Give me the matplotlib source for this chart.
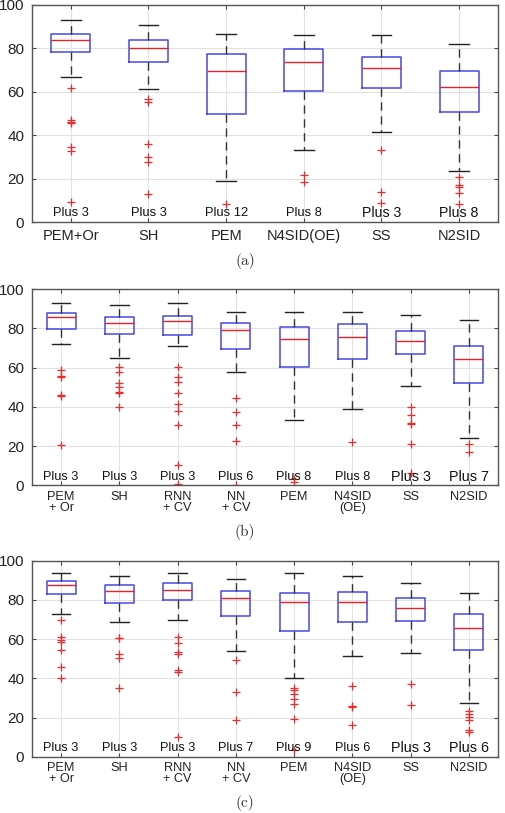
import matplotlib
matplotlib.use("Agg")
import matplotlib.pyplot as plt

# ---------------- data ----------------
labels_a = ["PEM+Or", "SH", "PEM", "N4SID(OE)", "SS", "N2SID"]
plus_a = [3, 3, 12, 8, 3, 8]
med_a = [83.9, 79.9, 69.4, 73.5, 70.8, 62.0]
q1_a = [78.4, 73.7, 49.8, 60.2, 61.6, 50.5]
q3_a = [86.7, 83.8, 77.2, 79.6, 76.0, 69.4]
lo_a = [66.6, 61.1, 19.1, 33.4, 41.5, 23.7]
hi_a = [93.0, 90.7, 86.4, 86.1, 85.9, 81.8]
fl_a = [
    [61.7, 47.2, 46.0, 45.5, 34.5, 32.9, 9.5],
    [56.8, 55.3, 35.8, 30.2, 27.7, 13.1],
    [8.6],
    [21.8, 18.6],
    [33.2, 13.9, 8.7],
    [20.8, 17.0, 16.4, 13.6, 8.6],
]

labels_bc = ["PEM\n+ Or", "SH", "RNN\n+ CV", "NN\n+ CV", "PEM", "N4SID\n(OE)", "SS", "N2SID"]

plus_b = [3, 3, 3, 6, 8, 8, 3, 7]
med_b = [85.7, 82.7, 83.8, 79.1, 74.7, 75.5, 73.5, 64.3]
q1_b = [79.9, 77.0, 76.7, 69.7, 60.4, 64.3, 67.0, 52.2]
q3_b = [87.9, 85.7, 86.6, 82.7, 80.8, 82.1, 78.9, 71.3]
lo_b = [72.1, 64.8, 71.1, 58.0, 33.3, 38.8, 50.5, 24.3]
hi_b = [93.2, 91.8, 92.9, 88.6, 88.4, 88.4, 86.9, 84.4]
fl_b = [
    [58.8, 55.8, 55.1, 46.3, 45.6, 20.7],
    [60.5, 57.8, 52.4, 50.3, 47.6, 46.9, 40.1],
    [60.5, 55.4, 52.7, 46.9, 41.5, 38.1, 31.0, 10.5, 0.5],
    [44.6, 37.2, 30.6, 22.8, 0.3],
    [3.0, 1.7],
    [21.9],
    [39.8, 35.7, 32.0, 31.3, 21.3, 6.1],
    [21.1, 17.0],
]

plus_c = [3, 3, 3, 7, 9, 6, 3, 6]
med_c = [87.7, 84.6, 85.0, 80.9, 78.8, 79.0, 76.1, 65.7]
q1_c = [82.8, 78.5, 79.9, 71.7, 64.3, 68.8, 69.3, 54.6]
q3_c = [89.6, 87.5, 88.4, 84.3, 83.6, 84.0, 80.9, 72.7]
lo_c = [72.7, 68.8, 69.8, 53.8, 40.4, 51.2, 52.7, 27.5]
hi_c = [93.7, 92.3, 93.9, 90.6, 93.5, 92.3, 88.6, 83.4]
fl_c = [
    [69.5, 61.1, 59.7, 58.4, 54.4, 45.7, 40.3],
    [60.8, 60.5, 52.2, 50.2, 34.8],
    [61.1, 58.0, 53.2, 52.6, 44.0, 43.3, 9.9],
    [49.5, 32.8, 18.8],
    [35.0, 33.8, 31.9, 29.4, 27.0, 19.1, 3.5],
    [36.2, 25.9, 25.3, 16.0],
    [36.9, 26.6],
    [23.4, 21.8, 20.1, 18.8, 13.7, 12.6],
]

captions = ["(a)", "(b)", "(c)"]

# ---------------- figure ----------------
W, H = 506, 813
fig = plt.figure(figsize=(W / 100, H / 100), dpi=100)
plt.rcParams['font.family'] = ['Liberation Sans', 'DejaVu Sans']

panels = [
    dict(labels=labels_a, plus=plus_a, med=med_a, q1=q1_a, q3=q3_a, lo=lo_a, hi=hi_a,
         fl=fl_a, top=4.7, bot=222.3, cap=0.25, capy=261, big=[4, 5],
         xfs=10.5, xpad=5, pfs=9.3, pbig=10.2),
    dict(labels=labels_bc, plus=plus_b, med=med_b, q1=q1_b, q3=q3_b, lo=lo_b, hi=hi_b,
         fl=fl_b, top=289.3, bot=485.3, cap=0.32, capy=532, big=[6, 7],
         xfs=9.2, xpad=4, pfs=9.1, pbig=10.4),
    dict(labels=labels_bc, plus=plus_c, med=med_c, q1=q1_c, q3=q3_c, lo=lo_c, hi=hi_c,
         fl=fl_c, top=560.7, bot=756.7, cap=0.32, capy=803, big=[6, 7],
         xfs=9.2, xpad=4, pfs=9.1, pbig=10.4),
]

left_px, right_px = 32, 498
for p, cap in zip(panels, captions):
    ax = fig.add_axes([left_px / W, 1 - p['bot'] / H, (right_px - left_px) / W,
                       (p['bot'] - p['top']) / H])
    n = len(p['labels'])
    stats = []
    for i in range(n):
        stats.append(dict(med=p['med'][i], q1=p['q1'][i], q3=p['q3'][i],
                          whislo=p['lo'][i], whishi=p['hi'][i], fliers=p['fl'][i]))
    pos = list(range(1, n + 1))
    ax.bxp(stats, positions=pos, widths=0.5, capwidths=p['cap'],
           showfliers=True, patch_artist=False,
           boxprops=dict(color='#4848e6', linewidth=1.1),
           medianprops=dict(color='#e8202a', linewidth=1.0),
           whiskerprops=dict(color='#333333', linewidth=1.0, linestyle=(0, (6, 4))),
           capprops=dict(color='#222222', linewidth=1.0),
           flierprops=dict(marker='+', markeredgecolor='#ee2a2a', markersize=6,
                           markeredgewidth=0.9, linestyle='none'))
    ax.set_xlim(0.5, n + 0.5)
    ax.set_ylim(0, 100)
    ax.set_yticks([0, 20, 40, 60, 80, 100])
    ax.set_xticks(pos)
    ax.set_xticklabels(p['labels'], fontsize=p['xfs'], color='#222222', linespacing=0.85)
    ax.tick_params(direction='in', length=3, top=True, right=True, width=0.8,
                   color='#444444')
    ax.tick_params(axis='y', labelsize=11, labelcolor='#222222', pad=5.5)
    ax.tick_params(axis='x', pad=p['xpad'])
    ax.grid(True, color='#e2e2e2', linewidth=0.8)
    ax.set_axisbelow(True)
    for s in ax.spines.values():
        s.set_color('#555555')
        s.set_linewidth(1.0)
    for i in range(n):
        fs = p['pbig'] if i in p['big'] else p['pfs']
        ax.text(pos[i], 4.3, f"Plus {p['plus'][i]}", ha='center', va='center',
                fontsize=fs, color='#111111')
    fig.text(245 / W, 1 - p['capy'] / H, cap, ha='center', va='center',
             fontsize=11, family='cmr10', color='#333333')

fig.savefig("out.png", dpi=100)
